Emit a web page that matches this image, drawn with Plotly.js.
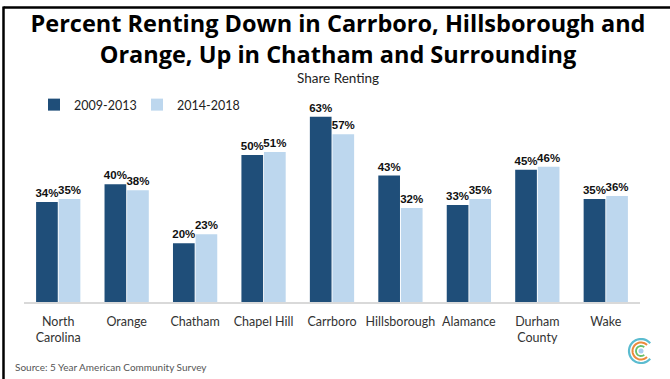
<!DOCTYPE html>
<html><head><meta charset="utf-8">
<script src="https://cdn.plot.ly/plotly-3.0.1.min.js"></script>
<style>html,body{margin:0;padding:0;background:#fff}#chart{width:670px;height:379px}</style>
</head><body><div id="chart"></div>
<script>
const categories = ["North<br>Carolina","Orange","Chatham","Chapel Hill","Carrboro","Hillsborough","Alamance","Durham<br>County","Wake"];
const series1Name = "2009-2013";
const series2Name = "2014-2018";
const series1 = [34,40,20,50,63,43,33,45,35];
const series2 = [35,38,23,51,57,32,35,46,36];

const W = 670, H = 379;
const M = {l:24, r:30, t:102, b:77};
const pw = W - M.l - M.r, ph = H - M.t - M.b;
const px = x => (x - M.l) / pw;
const py = y => (H - M.b - y) / ph;

const labelFont = {family:"Liberation Sans, Arial, sans-serif", size:11.5, color:"#111", weight:"bold"};
function trace(name, vals, color){
  return {type:"bar", name:name, x:categories, y:vals, marker:{color:color},
    text:vals.map(v=>v+"%"), textposition:"outside", textfont:labelFont, constraintext:"none",
    cliponaxis:false, hoverinfo:"skip"};
}

// decorative logo arcs
function arcPath(r, a0, a1){
  const n = 40; let d = "";
  for(let i=0;i<=n;i++){
    const a = (a0 + (a1-a0)*i/n) * Math.PI/180;
    d += (i? " L":"M") + (r*Math.cos(a)).toFixed(2) + "," + (r*Math.sin(a)).toFixed(2);
  }
  return d;
}
const logoX = px(641), logoY = py(351);
function logoShape(r, color, a0, a1, w){
  return {type:"path", xref:"paper", yref:"paper", xsizemode:"pixel", ysizemode:"pixel",
    xanchor:logoX, yanchor:logoY, path:arcPath(r,a0,a1), line:{color:color,width:w}};
}

const shapes = [
  {type:"line", xref:"paper", yref:"paper", x0:px(3.5), x1:px(672), y0:py(7.5), y1:py(7.5), line:{color:"#000", width:2.5}},
  {type:"line", xref:"paper", yref:"paper", x0:px(3.5), x1:px(3.5), y0:py(6.5), y1:py(381), line:{color:"#000", width:2.5}},
  logoShape(12, "#5bbcd0", 40, 320, 2.2),
  logoShape(8.5, "#ec8a3c", 45, 315, 2),
  logoShape(5, "#69bf6b", 50, 310, 1.8),
  {type:"circle", xref:"paper", yref:"paper", xsizemode:"pixel", ysizemode:"pixel",
    xanchor:logoX, yanchor:logoY, x0:-2.5, x1:2.5, y0:-2.5, y1:2.5,
    fillcolor:"#a9cdf2", line:{width:0}}
];

const layout = {
  width:W, height:H, margin:M, paper_bgcolor:"#fff", plot_bgcolor:"#fff",
  showlegend:true,
  title:{text:"<b>Percent Renting Down in Carrboro, Hillsborough and<br>Orange, Up in Chatham and Surrounding</b>",
    font:{family:"Open Sans, sans-serif", size:23.5, color:"#000"},
    x:338/W, xanchor:"center", xref:"container", yref:"container", y:1-32/H, yanchor:"middle"},
  barmode:"group", bargap:0.34, bargroupgap:0.04,
  xaxis:{showline:true, linecolor:"#d9d9d9", linewidth:2, ticks:"", showgrid:false, zeroline:false,
    ticklabelstandoff:7,
    tickfont:{family:"Lato, Open Sans, sans-serif", size:12.5, color:"#333"}, fixedrange:true},
  yaxis:{range:[0,68], visible:false, showgrid:false, zeroline:false, fixedrange:true},
  legend:{orientation:"h", x:px(34), y:py(105), xanchor:"left", yanchor:"middle",
    font:{family:"Lato, Open Sans, sans-serif", size:12.5, color:"#222"},
    entrywidth:58, entrywidthmode:"pixels", itemwidth:30, bgcolor:"rgba(0,0,0,0)"},
  annotations:[
    {text:"Share Renting", xref:"paper", yref:"paper", x:px(338), y:py(78), xanchor:"center", yanchor:"middle",
      showarrow:false, font:{family:"Lato, Open Sans, sans-serif", size:13.5, color:"#222"}},
    {text:"Source: 5 Year American Community Survey", xref:"paper", yref:"paper", x:px(13), y:py(367),
      xanchor:"left", yanchor:"middle", showarrow:false,
      font:{family:"Lato, Open Sans, sans-serif", size:10, color:"#555"}}
  ],
  shapes:shapes
};

Plotly.newPlot("chart", [trace(series1Name, series1, "#1f4e79"), trace(series2Name, series2, "#bdd7ee")], layout,
  {displayModeBar:false, staticPlot:true});
</script></body></html>
